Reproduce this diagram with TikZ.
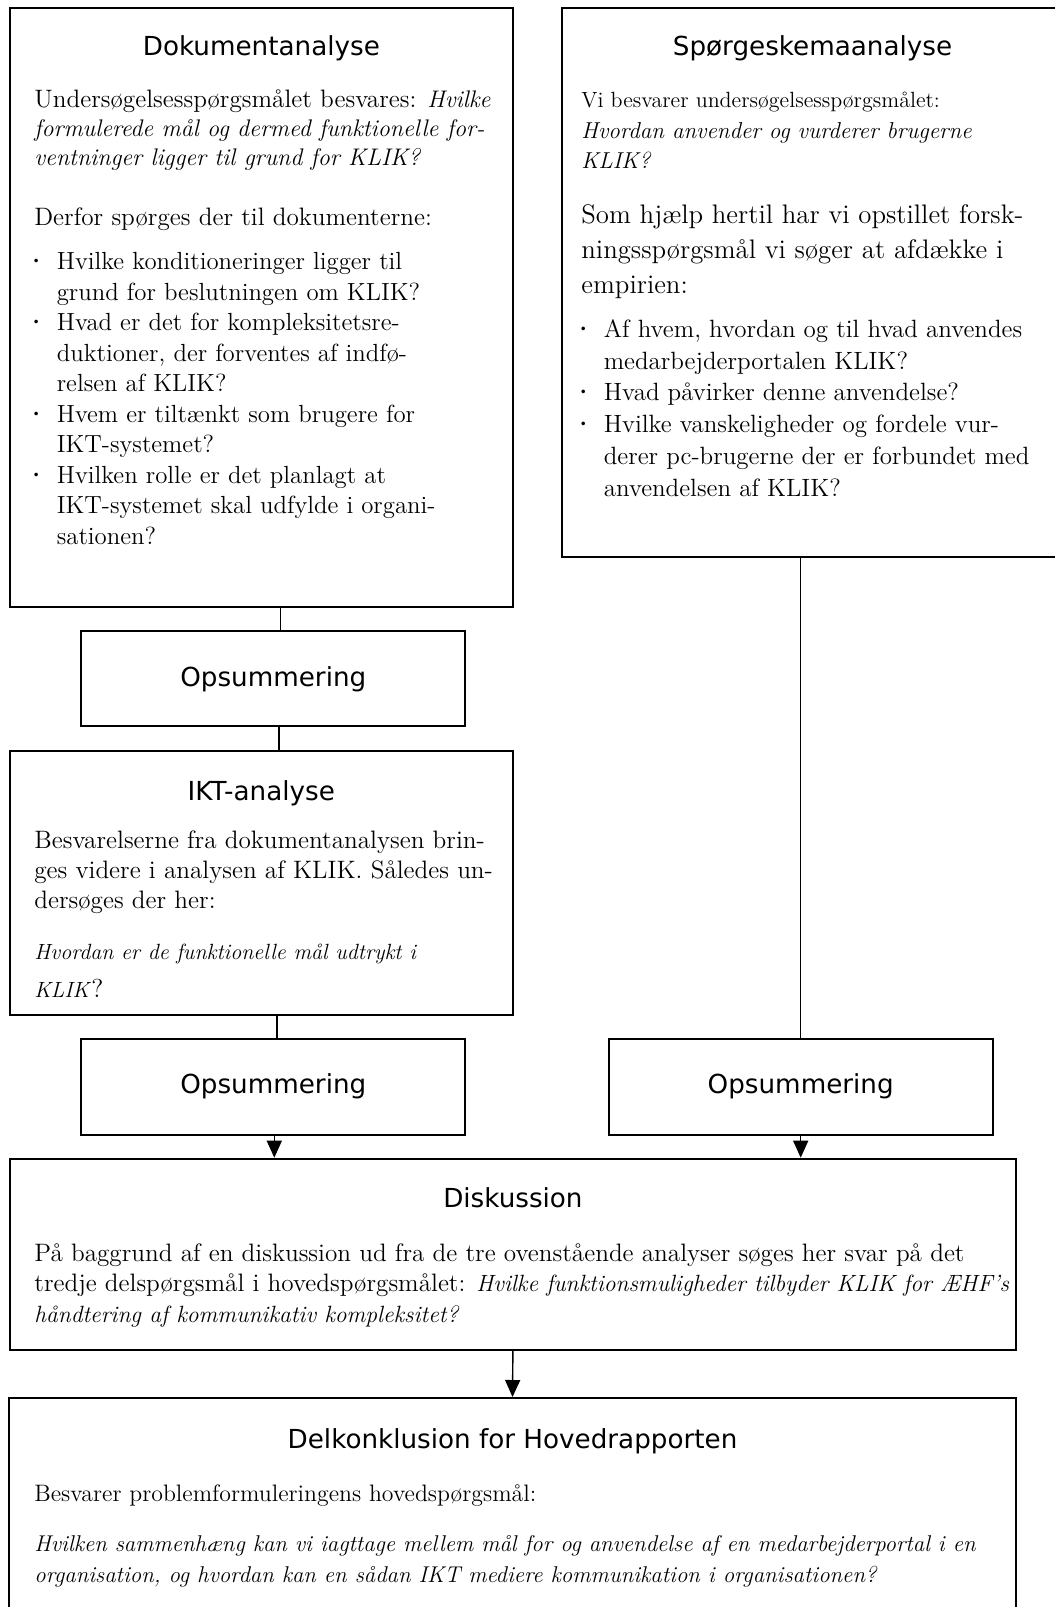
\documentclass[tikz,border=0pt]{standalone}
\usepackage{fontspec}
\newfontfamily\headfont{DejaVu Sans}
\usetikzlibrary{arrows.meta}
\newcommand{\bul}{\makebox[11.2pt][l]{\hspace*{-4.5pt}\textbf{·}}}
\newcommand{\ind}{\hspace*{11.2pt}}

\begin{document}
\begin{tikzpicture}[x=0.5pt,y=-0.5pt,
    box/.style={draw,line width=1pt,inner sep=0pt},
    head/.style={font=\headfont\fontsize{13.1}{15}\selectfont,inner sep=0pt},
    body/.style={font=\fontsize{12.6}{14.5}\selectfont,align=left,inner sep=0pt,anchor=north west},
    link/.style={line width=0.7pt},
    flow/.style={line width=0.7pt,-{Triangle[width=7.5pt,length=8.5pt]}}]
    \useasboundingbox (0,0) rectangle (1055,1607);
    \clip (0,0) rectangle (1055,1607);

    \node[box,minimum width=251.35pt,minimum height=299.6pt] (doc) at (261.35,307.1) {};
    \node[box,minimum width=250.5pt,minimum height=274.75pt] (sporg) at (812.5,282.25) {};
    \node[box,minimum width=192pt,minimum height=47.5pt] (ops1) at (273.3,678.8) {};
    \node[box,minimum width=251.75pt,minimum height=132pt] (ikt) at (261.25,883) {};
    \node[box,minimum width=192pt,minimum height=48pt] (ops2) at (273.3,1086.5) {};
    \node[box,minimum width=192pt,minimum height=48pt] (ops3) at (800.7,1086.5) {};
    \node[box,minimum width=503.4pt,minimum height=95.65pt] (disk) at (512.9,1254.35) {};
    \node[box,minimum width=503.5pt,minimum height=111pt] (delk) at (512.5,1509) {};

    \node[head] (dochead) at (261.35,48) {Dokumentanalyse};
    \node[body] (docq) at (34,89) {Undersøgelsesspørgsmålet besvares: {\fontsize{12}{14.5}\selectfont\textit{Hvilke}}\\{\fontsize{12}{14.5}\selectfont\textit{formulerede mål og dermed funktionelle for-}}\\{\fontsize{12}{14.5}\selectfont\textit{ventninger ligger til grund for KLIK?}}};
    \node[body] (docder) at (34,207) {Derfor spørges der til dokumenterne:};
    \node[body,font=\fontsize{12.4}{15.25}\selectfont] (doclist) at (34,252) {\bul Hvilke konditioneringer ligger til\\\ind grund for beslutningen om KLIK?\\\bul Hvad er det for kompleksitetsre-\\\ind duktioner, der forventes af indfø-\\\ind relsen af KLIK?\\\bul Hvem er tiltænkt som brugere for\\\ind IKT-systemet?\\\bul Hvilken rolle er det planlagt at\\\ind IKT-systemet skal udfylde i organi-\\\ind sationen?};

    \node[head] (sphead) at (812.5,48) {Spørgeskemaanalyse};
    \node[body,font=\fontsize{11}{15.1}\selectfont] (spq) at (581,92) {Vi besvarer undersøgelsesspørgsmålet:\\{\fontsize{11.5}{15.1}\selectfont\textit{Hvordan anvender og vurderer brugerne}}\\{\fontsize{11.5}{15.1}\selectfont\textit{KLIK?}}};
    \node[body,font=\fontsize{13.4}{17.5}\selectfont] (sphelp) at (581,204) {Som hjælp hertil har vi opstillet forsk-\\ningsspørgsmål vi søger at afdække i\\empirien:};
    \node[body,font=\fontsize{12.5}{15.9}\selectfont] (splist) at (581,319) {\bul Af hvem, hvordan og til hvad anvendes\\\ind medarbejderportalen KLIK?\\\bul Hvad påvirker denne anvendelse?\\\bul Hvilke vanskeligheder og fordele vur-\\\ind derer pc-brugerne der er forbundet med\\\ind anvendelsen af KLIK?};

    \node[head] (ops1head) at (ops1) {Opsummering};

    \node[head] (ikthead) at (261.25,793.5) {IKT-analyse};
    \node[body,font=\fontsize{12.6}{15}\selectfont] (iktq) at (34,830) {Besvarelserne fra dokumentanalysen brin-\\ges videre i analysen af KLIK. Således un-\\dersøges der her:};
    \node[body,font=\fontsize{11}{18.7}\selectfont] (iktsp) at (34,944) {\textit{Hvordan er de funktionelle mål udtrykt i}\\\textit{KLIK}{\fontsize{13}{18.7}\selectfont?}};

    \node[head] (ops2head) at (ops2) {Opsummering};
    \node[head] (ops3head) at (ops3) {Opsummering};

    \node[head] (diskhead) at (512.9,1197.5) {Diskussion};
    \node[body,font=\fontsize{12.6}{15.4}\selectfont] (disktxt) at (34,1243) {På baggrund af en diskussion ud fra de tre ovenstående analyser søges her svar på det\\tredje delspørgsmål i hovedspørgsmålet: {\fontsize{11.75}{15.4}\selectfont\textit{Hvilke funktionsmuligheder tilbyder KLIK for ÆHF’s}}\\{\fontsize{11.75}{15.4}\selectfont\textit{håndtering af kommunikativ kompleksitet?}}};

    \node[head] (delkhead) at (512.5,1441.5) {Delkonklusion for Hovedrapporten};
    \node[body,font=\fontsize{11.9}{14.5}\selectfont] (delktxt) at (34,1484) {Besvarer problemformuleringens hovedspørgsmål:};
    \node[body,font=\fontsize{11.4}{15.5}\selectfont] (delksp) at (34,1535) {\textit{Hvilken sammenhæng kan vi iagttage mellem mål for og anvendelse af en medarbejderportal i en}\\\textit{organisation, og hvordan kan en sådan IKT mediere kommunikation i organisationen?}};

    \coordinate (c1) at ([xshift=3.7pt]ops1.north);
    \coordinate (c2) at ([xshift=2.8pt]ops1.south);
    \coordinate (c3) at ([xshift=1.8pt]ops2.north);
    \coordinate (c4) at ([xshift=0.5pt]ops2.south);
    \draw[link] (c1 |- doc.south) -- (c1);
    \draw[link] (c2) -- (c2 |- ikt.north);
    \draw[link] (c3 |- ikt.south) -- (c3);
    \draw[link] (sporg.south -| ops3.north) -- (ops3.north);
    \draw[flow] (c4) -- (c4 |- disk.north);
    \draw[flow] (ops3.south) -- (ops3.south |- disk.north);
    \draw[flow] (disk.south) -- (delk.north);
\end{tikzpicture}
\end{document}
